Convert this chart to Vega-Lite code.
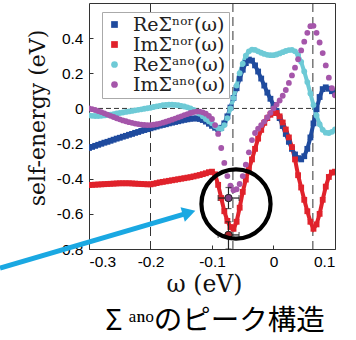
{
  "$schema": "https://vega.github.io/schema/vega-lite/v6.json",
  "width": 246,
  "height": 246,
  "autosize": {"type": "none"},
  "padding": {"left": 89, "top": 3, "right": 21, "bottom": 91},
  "background": "white",
  "title": {"text": "Σ ᵃⁿᵒのピーク構造", "orient": "bottom", "font": "Noto Sans CJK JP", "fontSize": 28.5, "fontWeight": "normal", "color": "#000", "anchor": "middle", "offset": 11, "dx": 3},
  "config": {
    "view": {"stroke": "#333", "strokeWidth": 1},
    "axis": {"grid": false, "domain": false, "tickSize": -4, "tickColor": "#333", "labelFont": "Liberation Sans", "labelFontSize": 15.5, "labelColor": "#000", "titleFont": "DejaVu Serif", "titleFontWeight": "normal", "titleColor": "#111"},
    "axisX": {"titleFontSize": 23.5},
    "axisY": {"titleFontSize": 22}
  },
  "datasets": {
    "curves": [
      {"w": -0.300, "a": -0.225, "b": -0.436, "c": -0.040, "d": 0.000},
      {"w": -0.295, "a": -0.219, "b": -0.435, "c": -0.042, "d": -0.004},
      {"w": -0.290, "a": -0.213, "b": -0.434, "c": -0.043, "d": -0.009},
      {"w": -0.285, "a": -0.207, "b": -0.433, "c": -0.043, "d": -0.015},
      {"w": -0.280, "a": -0.201, "b": -0.432, "c": -0.042, "d": -0.021},
      {"w": -0.275, "a": -0.195, "b": -0.431, "c": -0.040, "d": -0.028},
      {"w": -0.270, "a": -0.190, "b": -0.430, "c": -0.038, "d": -0.035},
      {"w": -0.265, "a": -0.184, "b": -0.429, "c": -0.035, "d": -0.042},
      {"w": -0.260, "a": -0.178, "b": -0.428, "c": -0.032, "d": -0.049},
      {"w": -0.255, "a": -0.172, "b": -0.427, "c": -0.029, "d": -0.056},
      {"w": -0.250, "a": -0.167, "b": -0.426, "c": -0.026, "d": -0.062},
      {"w": -0.245, "a": -0.161, "b": -0.426, "c": -0.023, "d": -0.068},
      {"w": -0.240, "a": -0.156, "b": -0.426, "c": -0.020, "d": -0.073},
      {"w": -0.235, "a": -0.150, "b": -0.426, "c": -0.017, "d": -0.078},
      {"w": -0.230, "a": -0.145, "b": -0.427, "c": -0.014, "d": -0.082},
      {"w": -0.225, "a": -0.139, "b": -0.428, "c": -0.011, "d": -0.086},
      {"w": -0.220, "a": -0.134, "b": -0.429, "c": -0.008, "d": -0.089},
      {"w": -0.215, "a": -0.128, "b": -0.430, "c": -0.005, "d": -0.092},
      {"w": -0.210, "a": -0.123, "b": -0.431, "c": -0.002, "d": -0.094},
      {"w": -0.205, "a": -0.118, "b": -0.432, "c": 0.001, "d": -0.095},
      {"w": -0.200, "a": -0.113, "b": -0.432, "c": 0.004, "d": -0.095},
      {"w": -0.195, "a": -0.108, "b": -0.429, "c": 0.008, "d": -0.093},
      {"w": -0.190, "a": -0.103, "b": -0.425, "c": 0.012, "d": -0.090},
      {"w": -0.185, "a": -0.098, "b": -0.421, "c": 0.015, "d": -0.086},
      {"w": -0.180, "a": -0.094, "b": -0.418, "c": 0.018, "d": -0.081},
      {"w": -0.175, "a": -0.090, "b": -0.415, "c": 0.020, "d": -0.076},
      {"w": -0.170, "a": -0.085, "b": -0.412, "c": 0.021, "d": -0.070},
      {"w": -0.165, "a": -0.081, "b": -0.409, "c": 0.021, "d": -0.064},
      {"w": -0.160, "a": -0.077, "b": -0.406, "c": 0.020, "d": -0.058},
      {"w": -0.155, "a": -0.073, "b": -0.403, "c": 0.018, "d": -0.051},
      {"w": -0.150, "a": -0.069, "b": -0.400, "c": 0.015, "d": -0.045},
      {"w": -0.145, "a": -0.065, "b": -0.397, "c": 0.011, "d": -0.038},
      {"w": -0.140, "a": -0.062, "b": -0.394, "c": 0.006, "d": -0.032},
      {"w": -0.135, "a": -0.059, "b": -0.391, "c": 0.000, "d": -0.026},
      {"w": -0.130, "a": -0.057, "b": -0.387, "c": -0.008, "d": -0.021},
      {"w": -0.125, "a": -0.057, "b": -0.383, "c": -0.018, "d": -0.018},
      {"w": -0.120, "a": -0.060, "b": -0.379, "c": -0.030, "d": -0.018},
      {"w": -0.115, "a": -0.066, "b": -0.374, "c": -0.045, "d": -0.022},
      {"w": -0.110, "a": -0.075, "b": -0.369, "c": -0.060, "d": -0.030},
      {"w": -0.105, "a": -0.087, "b": -0.363, "c": -0.073, "d": -0.042},
      {"w": -0.100, "a": -0.099, "b": -0.360, "c": -0.085, "d": -0.060},
      {"w": -0.095, "a": -0.110, "b": -0.375, "c": -0.100, "d": -0.095},
      {"w": -0.090, "a": -0.117, "b": -0.435, "c": -0.112, "d": -0.145},
      {"w": -0.085, "a": -0.110, "b": -0.510, "c": -0.115, "d": -0.225},
      {"w": -0.080, "a": -0.085, "b": -0.585, "c": -0.095, "d": -0.310},
      {"w": -0.075, "a": -0.045, "b": -0.640, "c": -0.055, "d": -0.385},
      {"w": -0.070, "a": 0.005, "b": -0.675, "c": 0.000, "d": -0.440},
      {"w": -0.065, "a": 0.060, "b": -0.685, "c": 0.060, "d": -0.465},
      {"w": -0.060, "a": 0.115, "b": -0.645, "c": 0.130, "d": -0.460},
      {"w": -0.055, "a": 0.170, "b": -0.565, "c": 0.200, "d": -0.430},
      {"w": -0.050, "a": 0.220, "b": -0.475, "c": 0.255, "d": -0.385},
      {"w": -0.045, "a": 0.258, "b": -0.405, "c": 0.300, "d": -0.320},
      {"w": -0.040, "a": 0.278, "b": -0.345, "c": 0.325, "d": -0.250},
      {"w": -0.035, "a": 0.272, "b": -0.290, "c": 0.335, "d": -0.180},
      {"w": -0.030, "a": 0.245, "b": -0.230, "c": 0.333, "d": -0.140},
      {"w": -0.025, "a": 0.210, "b": -0.172, "c": 0.325, "d": -0.115},
      {"w": -0.020, "a": 0.170, "b": -0.122, "c": 0.317, "d": -0.095},
      {"w": -0.015, "a": 0.130, "b": -0.082, "c": 0.310, "d": -0.075},
      {"w": -0.010, "a": 0.090, "b": -0.055, "c": 0.305, "d": -0.050},
      {"w": -0.005, "a": 0.055, "b": -0.036, "c": 0.303, "d": -0.025},
      {"w": 0.000, "a": 0.020, "b": -0.026, "c": 0.303, "d": 0.000},
      {"w": 0.005, "a": -0.015, "b": -0.026, "c": 0.307, "d": 0.022},
      {"w": 0.010, "a": -0.055, "b": -0.045, "c": 0.313, "d": 0.045},
      {"w": 0.015, "a": -0.100, "b": -0.080, "c": 0.320, "d": 0.072},
      {"w": 0.020, "a": -0.145, "b": -0.120, "c": 0.327, "d": 0.105},
      {"w": 0.025, "a": -0.190, "b": -0.165, "c": 0.332, "d": 0.145},
      {"w": 0.030, "a": -0.230, "b": -0.220, "c": 0.333, "d": 0.188},
      {"w": 0.035, "a": -0.262, "b": -0.290, "c": 0.325, "d": 0.232},
      {"w": 0.040, "a": -0.283, "b": -0.380, "c": 0.305, "d": 0.280},
      {"w": 0.045, "a": -0.290, "b": -0.450, "c": 0.265, "d": 0.330},
      {"w": 0.050, "a": -0.272, "b": -0.520, "c": 0.210, "d": 0.380},
      {"w": 0.055, "a": -0.230, "b": -0.585, "c": 0.150, "d": 0.430},
      {"w": 0.060, "a": -0.165, "b": -0.645, "c": 0.085, "d": 0.468},
      {"w": 0.065, "a": -0.085, "b": -0.685, "c": 0.020, "d": 0.470},
      {"w": 0.070, "a": -0.005, "b": -0.660, "c": -0.040, "d": 0.430},
      {"w": 0.075, "a": 0.065, "b": -0.600, "c": -0.090, "d": 0.375},
      {"w": 0.080, "a": 0.110, "b": -0.520, "c": -0.122, "d": 0.315},
      {"w": 0.085, "a": 0.120, "b": -0.445, "c": -0.138, "d": 0.245},
      {"w": 0.090, "a": 0.112, "b": -0.390, "c": -0.140, "d": 0.175},
      {"w": 0.095, "a": 0.098, "b": -0.365, "c": -0.133, "d": 0.115},
      {"w": 0.100, "a": 0.085, "b": -0.360, "c": -0.120, "d": 0.075}
    ],
    "errs": [
      {"w": -0.0732, "v": -0.510, "wlo": -0.090, "whi": -0.056, "vlo": -0.570, "vhi": -0.450, "k": "d"},
      {"w": -0.0732, "v": -0.720, "wlo": -0.090, "whi": -0.056, "vlo": -0.800, "vhi": -0.645, "k": "b"}
    ],
    "vlines": [{"w": -0.2}, {"w": -0.066}, {"w": 0.064}],
    "hlines": [{"v": 0}],
    "arrow": [{"w": -0.4447, "v": -0.908}, {"w": -0.1440, "v": -0.600}],
    "head": [{"w": -0.1374, "v": -0.593}],
    "ring": [{"w": -0.061, "v": -0.544}]
  },
  "layer": [
    {
      "data": {"name": "vlines"},
      "mark": {"type": "rule", "strokeDash": [9, 5], "color": "#333", "strokeWidth": 1},
      "encoding": {
        "x": {"field": "w", "type": "quantitative", "title": "ω (eV)", "scale": {"domain": [-0.3, 0.1], "nice": false, "zero": false}}
      }
    },
    {
      "data": {"name": "hlines"},
      "mark": {"type": "rule", "strokeDash": [5, 3], "color": "#333", "strokeWidth": 1},
      "encoding": {
        "y": {"field": "v", "type": "quantitative", "title": "self-energy (eV)", "scale": {"domain": [-0.8, 0.6], "nice": false, "zero": false}}
      }
    },
    {
      "data": {"name": "curves"},
      "transform": [{"fold": ["a", "b", "c"], "as": ["k", "v"]}],
      "mark": {"type": "line", "strokeWidth": 4, "clip": true},
      "encoding": {
        "x": {"field": "w", "type": "quantitative", "title": "ω (eV)"},
        "y": {"field": "v", "type": "quantitative", "title": "self-energy (eV)"},
        "stroke": {"field": "k", "type": "nominal", "scale": {"domain": ["a", "b", "c"], "range": ["#1f4b9e", "#e0222b", "#6ecad6"]}, "legend": null},
        "detail": {"field": "k"}
      }
    },
    {
      "data": {"name": "curves"},
      "transform": [{"fold": ["a", "b", "c", "d"], "as": ["k", "v"]}],
      "mark": {"type": "point", "filled": true, "opacity": 1, "size": 34, "clip": true, "strokeWidth": 0},
      "encoding": {
        "x": {"field": "w", "type": "quantitative", "title": "ω (eV)", "scale": {"domain": [-0.3, 0.1], "nice": false, "zero": false},
          "axis": {"values": [-0.3, -0.2, -0.1, 0, 0.1], "labelExpr": "abs(datum.value) < 1e-9 ? '0' : replace(format(datum.value, '.1f'), '\u2212', '-')", "labelPadding": 9, "titleX": 115, "titleY": 42.5, "titleBaseline": "alphabetic", "titleAlign": "center"}},
        "y": {"field": "v", "type": "quantitative", "title": "self-energy (eV)", "scale": {"domain": [-0.8, 0.6], "nice": false, "zero": false},
          "axis": {"values": [-0.8, -0.6, -0.4, -0.2, 0, 0.2, 0.4], "labelExpr": "abs(datum.value) < 1e-9 ? '0' : replace(format(datum.value, '.1f'), '\u2212', '-')", "labelPadding": 10, "titleX": -45, "titleY": 114.5, "titleAngle": 270, "titleBaseline": "alphabetic", "titleAlign": "center"}},
        "color": {"field": "k", "type": "nominal",
          "scale": {"domain": ["a", "b", "c", "d"], "range": ["#1f4b9e", "#e0222b", "#6ecad6", "#a556aa"]},
          "legend": {"orient": "none", "legendX": 13, "legendY": 9, "title": null, "fillColor": "#fff", "strokeColor": "#aaa", "padding": 3, "labelFont": "DejaVu Serif", "labelFontSize": 19, "labelColor": "#222", "labelOffset": 9, "symbolSize": 45, "rowPadding": 0, "symbolStrokeWidth": 0,
            "labelExpr": "datum.label == 'a' ? 'ReΣⁿᵒʳ(ω)' : datum.label == 'b' ? 'ImΣⁿᵒʳ(ω)' : datum.label == 'c' ? 'ReΣᵃⁿᵒ(ω)' : 'ImΣᵃⁿᵒ(ω)'"}},
        "shape": {"field": "k", "type": "nominal", "scale": {"domain": ["a", "b", "c", "d"], "range": ["square", "square", "circle", "circle"]}},
        "order": {"field": "k"}
      }
    },
    {
      "data": {"name": "errs"},
      "mark": {"type": "rule", "color": "#222", "strokeWidth": 1.2, "clip": false},
      "encoding": {
        "x": {"field": "wlo", "type": "quantitative", "title": "ω (eV)"},
        "x2": {"field": "whi"},
        "y": {"field": "v", "type": "quantitative", "title": "self-energy (eV)"}
      }
    },
    {
      "data": {"name": "errs"},
      "mark": {"type": "rule", "color": "#222", "strokeWidth": 1.2, "clip": false},
      "encoding": {
        "x": {"field": "w", "type": "quantitative", "title": "ω (eV)"},
        "y": {"field": "vlo", "type": "quantitative", "title": "self-energy (eV)"},
        "y2": {"field": "vhi"}
      }
    },
    {
      "data": {"name": "errs"},
      "transform": [{"fold": ["wlo", "whi"], "as": ["ek", "ex"]}],
      "mark": {"type": "tick", "orient": "vertical", "color": "#222", "size": 6, "thickness": 1.2, "clip": false},
      "encoding": {
        "x": {"field": "ex", "type": "quantitative", "title": "ω (eV)"},
        "y": {"field": "v", "type": "quantitative", "title": "self-energy (eV)"}
      }
    },
    {
      "data": {"name": "errs"},
      "transform": [{"fold": ["vlo", "vhi"], "as": ["ek", "ey"]}],
      "mark": {"type": "tick", "orient": "horizontal", "color": "#222", "size": 6, "thickness": 1.2, "clip": false},
      "encoding": {
        "x": {"field": "w", "type": "quantitative", "title": "ω (eV)"},
        "y": {"field": "ey", "type": "quantitative", "title": "self-energy (eV)"}
      }
    },
    {
      "data": {"name": "errs"},
      "mark": {"type": "point", "filled": true, "size": 55, "stroke": "#222", "strokeWidth": 1, "opacity": 1, "clip": false},
      "encoding": {
        "x": {"field": "w", "type": "quantitative", "title": "ω (eV)"},
        "y": {"field": "v", "type": "quantitative", "title": "self-energy (eV)"},
        "fill": {"field": "k", "type": "nominal", "scale": {"domain": ["d", "b"], "range": ["#7d3f82", "#a8232b"]}, "legend": null}
      }
    },
    {
      "data": {"name": "ring"},
      "mark": {"type": "point", "shape": "circle", "filled": false, "size": 4778, "stroke": "#000", "strokeWidth": 4.2, "opacity": 1, "clip": false},
      "encoding": {
        "x": {"field": "w", "type": "quantitative", "title": "ω (eV)"},
        "y": {"field": "v", "type": "quantitative", "title": "self-energy (eV)"}
      }
    },
    {
      "data": {"name": "arrow"},
      "mark": {"type": "line", "color": "#1aa8e2", "strokeWidth": 5, "clip": false, "strokeCap": "butt"},
      "encoding": {
        "x": {"field": "w", "type": "quantitative", "title": "ω (eV)"},
        "y": {"field": "v", "type": "quantitative", "title": "self-energy (eV)"}
      }
    },
    {
      "data": {"name": "head"},
      "mark": {"type": "point", "shape": "triangle-right", "filled": true, "size": 230, "angle": -16.4, "color": "#1aa8e2", "opacity": 1, "clip": false, "strokeWidth": 0},
      "encoding": {
        "x": {"field": "w", "type": "quantitative", "title": "ω (eV)"},
        "y": {"field": "v", "type": "quantitative", "title": "self-energy (eV)"}
      }
    }
  ]
}
